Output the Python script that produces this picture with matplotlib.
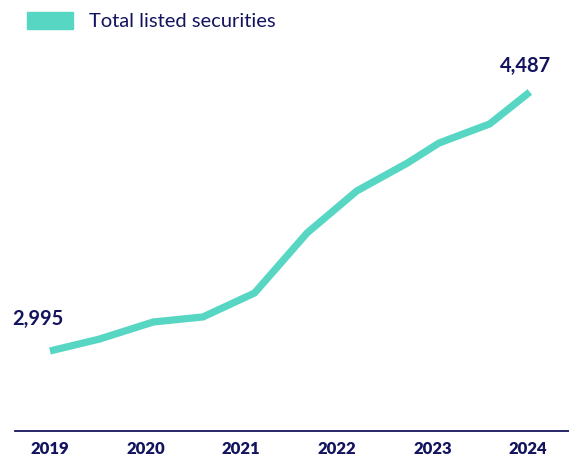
import matplotlib
matplotlib.use('Agg')
import matplotlib.pyplot as plt
from matplotlib.patches import Patch

# data (fractional years, number of listed securities)
period = [2019.0, 2019.52, 2020.08, 2020.6, 2021.14, 2021.69, 2022.21, 2022.74, 2023.07, 2023.6, 2024.02]
securities = [2995, 3064, 3162, 3191, 3329, 3675, 3917, 4078, 4193, 4303, 4487]
year_ticks = [2019, 2020, 2021, 2022, 2023, 2024]
series_name = 'Total listed securities'

teal = '#56d6c3'
navy = '#14145e'

fig = plt.figure(figsize=(5.69, 4.59), dpi=100)
ax = fig.add_axes([15 / 569, 28 / 459, 554 / 569, 431 / 459])

ax.plot(period, securities, color=teal, linewidth=5.2, solid_capstyle='butt', solid_joinstyle='miter')

ax.set_xlim(2018.634, 2024.43)
ax.set_ylim(2534, 5017)

ax.set_xticks(year_ticks)
ax.set_xticklabels([str(y) for y in year_ticks], fontfamily='Lato', fontweight='heavy',
                   fontsize=12, color=navy)
ax.tick_params(axis='x', length=0, pad=7)
ax.set_yticks([])
for side in ['top', 'right', 'left']:
    ax.spines[side].set_visible(False)
ax.spines['bottom'].set_color(navy)
ax.spines['bottom'].set_linewidth(1.3)

# first and last value labels
ax.annotate(f'{securities[0]:,}', (period[0], securities[0]), xytext=(-38, 22),
            textcoords='offset pixels', fontfamily='Lato', fontweight='bold',
            fontsize=14.5, color=navy, va='bottom')
ax.annotate(f'{securities[-1]:,}', (period[-1], securities[-1]), xytext=(-30, 16),
            textcoords='offset pixels', fontfamily='Lato', fontweight='bold',
            fontsize=14.5, color=navy, va='bottom')

leg = fig.legend(handles=[Patch(color=teal, label=series_name)], loc='upper left',
                 bbox_to_anchor=(27 / 569, 1 - 12 / 459), frameon=False,
                 borderpad=0, borderaxespad=0,
                 handlelength=2.3, handleheight=0.9, handletextpad=0.8,
                 prop={'family': 'Lato', 'weight': 'normal', 'size': 14.5})
for t in leg.get_texts():
    t.set_color(navy)

fig.savefig('out.png', dpi=100)
